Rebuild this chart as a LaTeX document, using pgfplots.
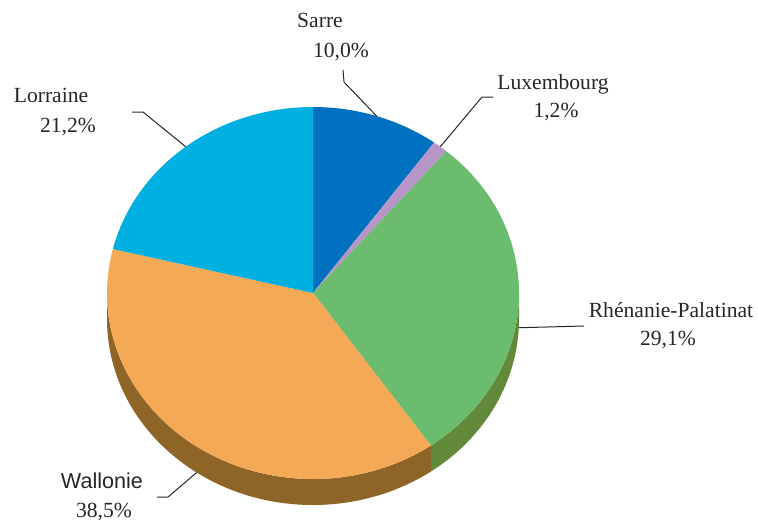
\documentclass[border=0pt]{standalone}
\usepackage{pgfplots}
\pgfplotsset{compat=1.18}
\usepackage{pgfplotstable}
\usepackage{fontspec}
\setmainfont{Liberation Serif}
\newfontfamily\sansfont{Liberation Sans}

% top faces
\definecolor{c0}{HTML}{0070C0}
\definecolor{c1}{HTML}{B795C9}
\definecolor{c2}{HTML}{6BBC6F}
\definecolor{c3}{HTML}{F3A955}
\definecolor{c4}{HTML}{00B0E0}
% side walls
\definecolor{s0}{HTML}{004A80}
\definecolor{s1}{HTML}{7A6286}
\definecolor{s2}{HTML}{62883A}
\definecolor{s3}{HTML}{8E6527}
\definecolor{s4}{HTML}{007595}

% value in %, label positions (pixels, y down), leader start / elbow, dd = leader ends on lower rim, sf = sans label
\pgfplotstableread{
name value lx ly px py sx sy ex ey dd sf
Sarre 10.0 320 28 341 58 343 70 344 82 0 0
Luxembourg 1.2 553 90 556 117 493 97 482 97 0 0
Rhénanie-Palatinat 29.1 671 317 668 345 584 326 584 326 1 0
Wallonie 38.5 102 488 104 517 157 497 168 497 1 1
Lorraine 21.2 51 103 68 132 132 112 143 112 0 0
}\piedata

\begin{document}
\begin{tikzpicture}
\pgfplotstablegetrowsof{\piedata}
\pgfmathtruncatemacro\nlast{\pgfplotsretval-1}
\def\cum{0}
\pgfplotsforeachungrouped \i in {0,...,\nlast}{%
  \pgfplotstablegetelem{\i}{value}\of\piedata
  \let\v\pgfplotsretval
  \pgfmathsetmacro\ta{90-3.6*\cum}%
  \pgfmathsetmacro\cum{\cum+\v}%
  \pgfmathsetmacro\tb{90-3.6*\cum}%
  \pgfmathsetmacro\tm{(\ta+\tb)/2}%
  \pgfmathsetmacro\sa{min(\ta,0)}%
  \pgfmathsetmacro\sb{max(\tb,-180)}%
  \pgfmathtruncatemacro\hs{\sa>\sb}%
  \expandafter\xdef\csname val\i\endcsname{\v}%
  \expandafter\xdef\csname ta\i\endcsname{\ta}%
  \expandafter\xdef\csname tb\i\endcsname{\tb}%
  \expandafter\xdef\csname tm\i\endcsname{\tm}%
  \expandafter\xdef\csname sa\i\endcsname{\sa}%
  \expandafter\xdef\csname sb\i\endcsname{\sb}%
  \expandafter\xdef\csname hs\i\endcsname{\hs}%
  \pgfplotsforeachungrouped \c in {name,lx,ly,px,py,sx,sy,ex,ey,dd,sf}{%
    \pgfplotstablegetelem{\i}{\c}\of\piedata
    \expandafter\xdef\csname\c\i\endcsname{\pgfplotsretval}%
  }%
}
\begin{axis}[
  width=379pt, height=259.5pt, scale only axis,
  hide axis, clip=false,
  xmin=0, xmax=758, ymin=0, ymax=519, y dir=reverse,
]
% side walls (front half only)
\pgfplotsinvokeforeach{0,...,\nlast}{
  \ifnum\csname hs#1\endcsname=1
    \fill[s#1] (axis cs:{313+206*cos(\csname sa#1\endcsname)},{293-186*sin(\csname sa#1\endcsname)})
      arc[start angle=\csname sa#1\endcsname, end angle=\csname sb#1\endcsname, x radius=103pt, y radius=93pt]
      -- ++(0,-13pt)
      arc[start angle=\csname sb#1\endcsname, end angle=\csname sa#1\endcsname, x radius=103pt, y radius=93pt]
      -- cycle;
  \fi
}
% top faces
\pgfplotsinvokeforeach{0,...,\nlast}{
  \fill[c#1] (axis cs:313,293)
    -- (axis cs:{313+206*cos(\csname ta#1\endcsname)},{293-186*sin(\csname ta#1\endcsname)})
    arc[start angle=\csname ta#1\endcsname, end angle=\csname tb#1\endcsname, x radius=103pt, y radius=93pt]
    -- cycle;
}
% labels and leader lines
\pgfplotsinvokeforeach{0,...,\nlast}{
  \draw[line width=0.5pt, black!85]
    (axis cs:\csname sx#1\endcsname,\csname sy#1\endcsname)
    -- (axis cs:\csname ex#1\endcsname,\csname ey#1\endcsname)
    -- (axis cs:{313+206*cos(\csname tm#1\endcsname)},{293-186*sin(\csname tm#1\endcsname)+26*\csname dd#1\endcsname});
  \node[anchor=base, text=black!85, inner sep=0pt, font={\fontsize{10.8pt}{13pt}\selectfont}]
    at (axis cs:\csname lx#1\endcsname,\csname ly#1\endcsname)
    {\ifnum\csname sf#1\endcsname=1 \sansfont\fi\csname name#1\endcsname};
  \node[anchor=base, text=black!85, inner sep=0pt, font={\fontsize{10.8pt}{13pt}\selectfont}]
    at (axis cs:\csname px#1\endcsname,\csname py#1\endcsname)
    {\pgfmathprintnumber[fixed,fixed zerofill,precision=1,use comma,assume math mode=true]{\csname val#1\endcsname}\%};
}
\end{axis}
\pgfresetboundingbox
\useasboundingbox (current axis.south west) rectangle (current axis.north east);
\end{tikzpicture}
\end{document}
